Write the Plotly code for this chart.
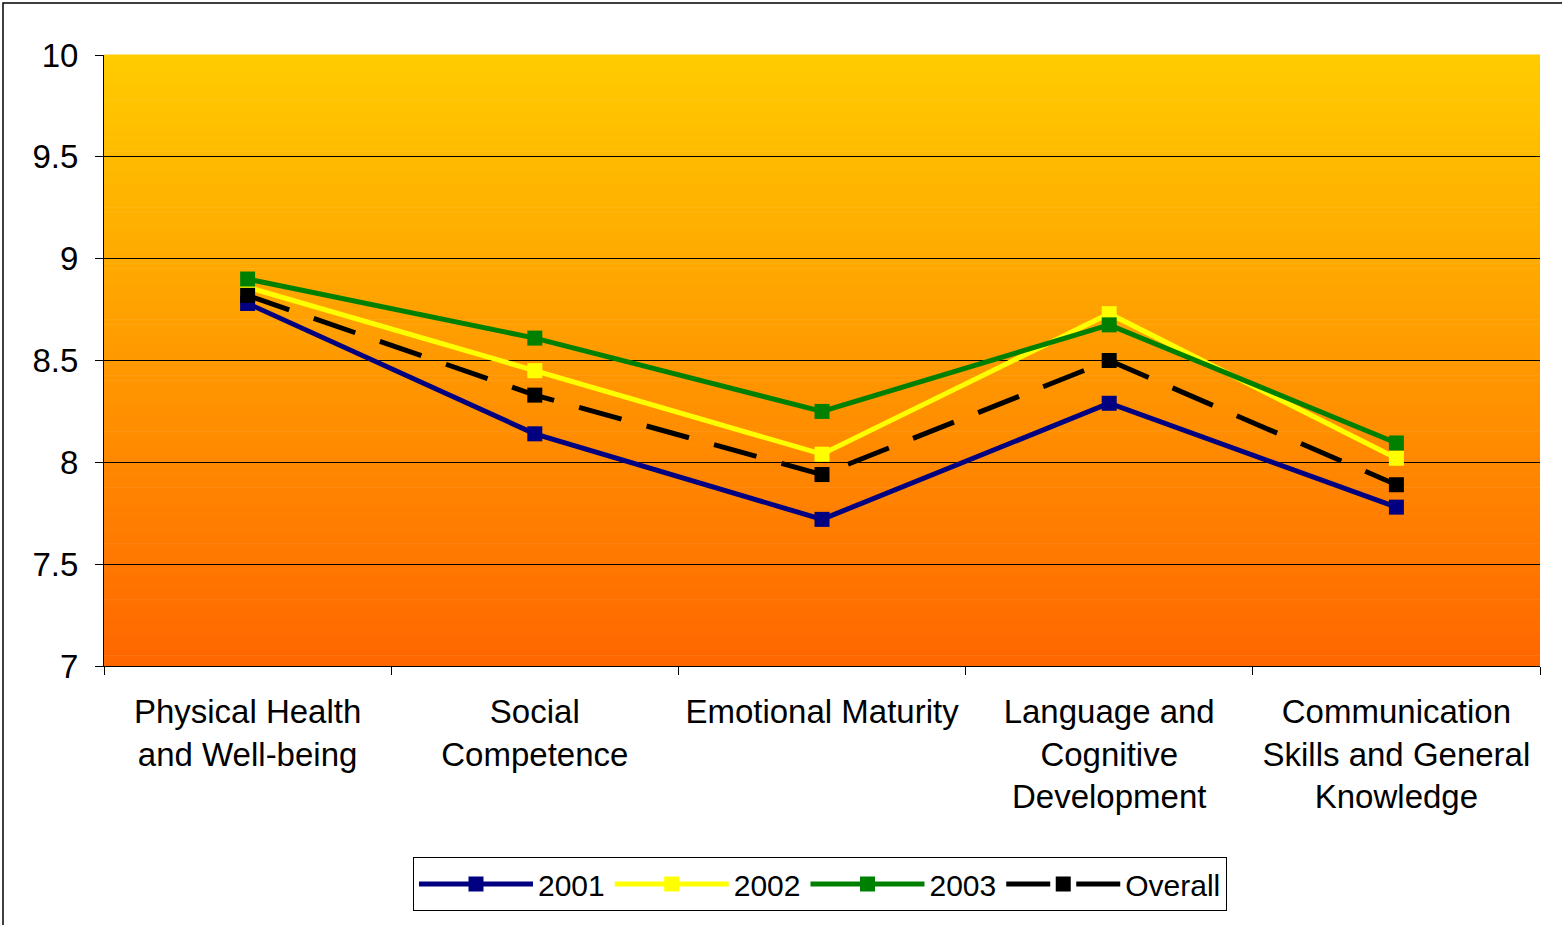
import plotly.graph_objects as go

categories = ["Physical Health<br>and Well-being", "Social<br>Competence", "Emotional Maturity",
              "Language and<br>Cognitive<br>Development", "Communication<br>Skills and General<br>Knowledge"]
s2001 = [8.78, 8.14, 7.72, 8.29, 7.78]
s2002 = [8.86, 8.45, 8.04, 8.73, 8.02]
s2003 = [8.90, 8.61, 8.25, 8.675, 8.095]
overall = [8.82, 8.33, 7.94, 8.50, 7.89]
y_ticks = [7, 7.5, 8, 8.5, 9, 9.5, 10]
y_tick_labels = ["7", "7.5", "8", "8.5", "9", "9.5", "10"]

W, H = 1562, 925
L, R, T, B = 104, 1540, 55, 666
pw, ph = R - L, B - T

fig = go.Figure()
series = [("2001", s2001, "#000080", "solid"),
          ("2002", s2002, "#FFFF00", "solid"),
          ("2003", s2003, "#008000", "solid"),
          ("Overall", overall, "#000000", "44px,26px")]
for name, vals, col, dash in series:
    fig.add_trace(go.Scatter(x=categories, y=vals, name=name, mode="lines+markers",
                             line=dict(color=col, width=5, dash=dash),
                             marker=dict(symbol="square", size=15, color=col)))

# gradient background strips
shapes = []
n = 120
c0 = (255, 204, 0)
c1 = (255, 102, 0)
for i in range(n):
    t = (i + 0.5) / n
    r = round(c0[0] + (c1[0] - c0[0]) * t)
    g = round(c0[1] + (c1[1] - c0[1]) * t)
    b = round(c0[2] + (c1[2] - c0[2]) * t)
    shapes.append(dict(type="rect", xref="paper", yref="paper", x0=0, x1=1,
                       y0=1 - (i + 1) / n, y1=1 - i / n + 0.001, layer="below",
                       line=dict(width=0), fillcolor=f"rgb({r},{g},{b})"))
# outer frame
shapes.append(dict(type="rect", xref="paper", yref="paper",
                   x0=(3 - L) / pw, x1=(W + 3 - L) / pw,
                   y0=(B - (H + 3)) / ph, y1=(B - 3) / ph,
                   line=dict(color="#000000", width=1.5), fillcolor="rgba(0,0,0,0)"))

fig.update_layout(
    width=W, height=H,
    margin=dict(l=L, r=W - R, t=T, b=H - B),
    paper_bgcolor="white", plot_bgcolor="rgba(0,0,0,0)",
    font=dict(family="Liberation Sans, Arial, sans-serif", size=33, color="black"),
    shapes=shapes,
    showlegend=True,
    legend=dict(orientation="h", x=0.4986, xanchor="center", y=(B - 857) / ph, yanchor="top",
                bordercolor="black", borderwidth=1, bgcolor="white",
                font=dict(size=30), itemwidth=114, tracegroupgap=0),
    xaxis=dict(type="category", tickson="boundaries", ticks="outside", ticklen=8,
               tickcolor="black", showline=True, linecolor="black", linewidth=1,
               showgrid=False, tickfont=dict(size=33), ticklabelstandoff=16,
               range=[-0.5, 4.5], fixedrange=True),
    yaxis=dict(range=[7, 10], tickvals=y_ticks, ticktext=y_tick_labels, ticks="outside",
               ticklen=8, tickcolor="black", showline=True, linecolor="black", linewidth=1,
               showgrid=True, gridcolor="black", gridwidth=1, zeroline=False,
               tickfont=dict(size=33), ticklabelstandoff=10),
)

fig.write_html("out.html", config={"displayModeBar": False},
               post_script="document.body.style.margin='0';document.body.style.padding='0';")
